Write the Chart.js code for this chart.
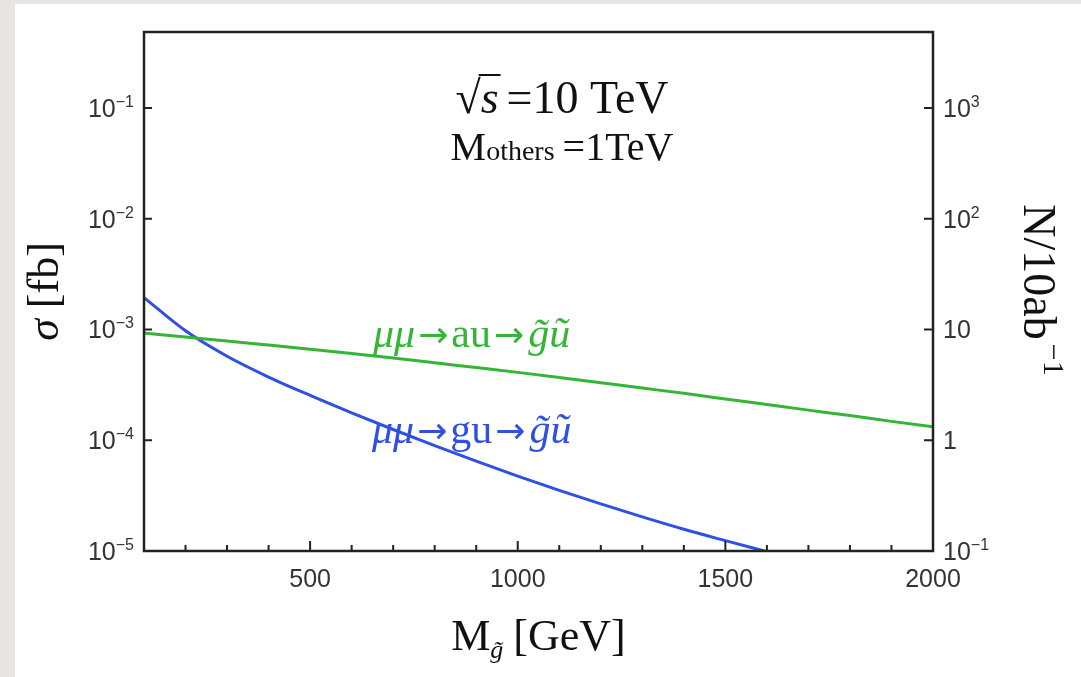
<!DOCTYPE html>
<html>
<head>
<meta charset="utf-8">
<script src="https://cdn.jsdelivr.net/npm/chart.js@4.4.1/dist/chart.umd.min.js"></script>
<style>
  html, body { margin: 0; padding: 0; background: #e8e6e2; overflow: hidden; }
  .panel { position: absolute; left: 15px; top: 4px; right: 0; bottom: 0; background: #fff; }
  #chart { position: absolute; left: 0; top: 0; }
</style>
</head>
<body>
<div class="panel"></div>
<canvas id="chart" width="1081" height="677"></canvas>
<script>
// gluino mass grid [GeV]
const masses = [100, 200, 300, 400, 500, 600, 700, 800, 900, 1000,
                1100, 1200, 1300, 1400, 1500, 1600, 1700, 1800, 1900, 2000]

// sigma [fb] for mu mu -> a u -> gluino squark
const sigmaAU = [9.29e-4, 8.55e-4, 7.87e-4, 7.23e-4, 6.64e-4, 6.08e-4, 5.53e-4, 5.0e-4, 4.53e-4, 4.1e-4,
                 3.69e-4, 3.31e-4, 2.96e-4, 2.65e-4, 2.36e-4, 2.1e-4, 1.87e-4, 1.67e-4, 1.48e-4, 1.32e-4]

// sigma [fb] for mu mu -> g u -> gluino squark (falls off the bottom past ~1.6 TeV)
const sigmaGU = [1.94e-3, 9.72e-4, 5.73e-4, 3.72e-4, 2.54e-4, 1.77e-4, 1.25e-4, 8.95e-5, 6.49e-5, 4.75e-5,
                 3.53e-5, 2.66e-5, 2.03e-5, 1.57e-5, 1.24e-5, 9.85e-6]

const xMajorTicks = [500, 1000, 1500, 2000]
const xMinorTicks = [200, 300, 400, 600, 700, 800, 900, 1100, 1200, 1300, 1400, 1600, 1700, 1800, 1900]
const sigmaTicks = [1e-5, 1e-4, 1e-3, 1e-2, 1e-1]
const sigmaTickExp = ['\u22125', '\u22124', '\u22123', '\u22122', '\u22121']
const eventTicks = [0.1, 1, 10, 100, 1000]
const eventTickText = [['10', '\u22121'], ['1', ''], ['10', ''], ['10', '2'], ['10', '3']]

const lumi = 1e4 // 10 ab^-1 in fb^-1
const sigmaMin = 1e-5
const sigmaMax = 0.485

const GREEN = '#35b535'
const BLUE = '#2f50e3'
const SANS = '"Liberation Sans", Arial, sans-serif'
const SERIF = '"Liberation Serif", "Times New Roman", serif'
const ARROW = '"DejaVu Sans", sans-serif'

function runsWidth(ctx, runs) {
    let w = 0
    runs.forEach(r => {
        ctx.font = r.font
        w += ctx.measureText(r.t).width + (r.gap || 0)
    })
    return w
}

// draws a row of differently styled text pieces, all on one baseline
function drawRuns(ctx, runs, x, y, align) {
    const w = runsWidth(ctx, runs)
    let cx = align === 'right' ? x - w : align === 'center' ? x - w / 2 : x
    ctx.textAlign = 'left'
    ctx.textBaseline = 'alphabetic'
    const spots = []
    runs.forEach(r => {
        ctx.font = r.font
        ctx.fillStyle = r.color || '#111'
        ctx.fillText(r.t, cx, y + (r.dy || 0))
        const rw = ctx.measureText(r.t).width
        spots.push({ x: cx, w: rw })
        cx += rw + (r.gap || 0)
    })
    return spots
}

function powRuns(base, exp) {
    const runs = [{ t: base, font: '25px ' + SANS, color: '#333' }]
    if (exp) runs.push({ t: exp, font: '16px ' + SANS, color: '#333', dy: -10 })
    return runs
}

// mu mu -> X u -> gluino squark, with wider arrows
function processRuns(mid, color) {
    return [
        { t: '\u03BC\u03BC', font: 'italic 42px ' + SERIF, color, gap: 3 },
        { t: '\u2192', font: '36px ' + ARROW, color, gap: 3 },
        { t: mid, font: '42px ' + SERIF, color, gap: 3 },
        { t: '\u2192', font: '36px ' + ARROW, color, gap: 4 },
        { t: 'g\u0303u\u0303', font: 'italic 42px ' + SERIF, color }
    ]
}

const frameAndText = {
    id: 'frameAndText',
    afterDatasetsDraw(chart) {
        const { ctx, chartArea: a, scales } = chart
        const x = scales.x, y = scales.y, yN = scales.yN

        ctx.save()
        ctx.strokeStyle = '#222'
        ctx.lineWidth = 2.5
        ctx.strokeRect(a.left, a.top, a.right - a.left, a.bottom - a.top)

        // inward ticks
        ctx.lineWidth = 2
        ctx.beginPath()
        xMajorTicks.forEach(v => {
            const px = x.getPixelForValue(v)
            ctx.moveTo(px, a.bottom); ctx.lineTo(px, a.bottom - 10)
        })
        xMinorTicks.forEach(v => {
            const px = x.getPixelForValue(v)
            ctx.moveTo(px, a.bottom); ctx.lineTo(px, a.bottom - 6)
        })
        sigmaTicks.forEach(v => {
            const py = y.getPixelForValue(v)
            ctx.moveTo(a.left, py); ctx.lineTo(a.left + 8, py)
        })
        eventTicks.forEach(v => {
            const py = yN.getPixelForValue(v)
            ctx.moveTo(a.right, py); ctx.lineTo(a.right - 9, py)
        })
        ctx.stroke()

        // tick labels
        sigmaTicks.forEach((v, i) => {
            const py = y.getPixelForValue(v)
            drawRuns(ctx, powRuns('10', sigmaTickExp[i]), a.left - 10, py + 9, 'right')
        })
        eventTicks.forEach((v, i) => {
            const py = yN.getPixelForValue(v)
            drawRuns(ctx, powRuns(eventTickText[i][0], eventTickText[i][1]), a.right + 10, py + 9, 'left')
        })
        ctx.font = '25px ' + SANS
        ctx.fillStyle = '#333'
        ctx.textAlign = 'center'
        ctx.textBaseline = 'alphabetic'
        xMajorTicks.forEach(v => {
            ctx.fillText(String(v), x.getPixelForValue(v), a.bottom + 36)
        })

        // axis titles
        drawRuns(ctx, [
            { t: 'M', font: '44px ' + SERIF },
            { t: 'g\u0303', font: 'italic 26px ' + SERIF, dy: 8, gap: 10 },
            { t: '[GeV]', font: '44px ' + SERIF }
        ], (a.left + a.right) / 2, 650, 'center')

        ctx.save()
        ctx.translate(58, (a.top + a.bottom) / 2)
        ctx.rotate(-Math.PI / 2)
        drawRuns(ctx, [
            { t: '\u03C3', font: 'italic 44px ' + SERIF, gap: 11 },
            { t: '[fb]', font: '44px ' + SERIF }
        ], 0, 0, 'center')
        ctx.restore()

        ctx.save()
        ctx.translate(1024, 290)
        ctx.rotate(Math.PI / 2)
        drawRuns(ctx, [
            { t: 'N/10ab', font: '46px ' + SERIF, gap: 4 },
            { t: '\u22121', font: '30px ' + SERIF, dy: -20 }
        ], 0, 0, 'center')
        ctx.restore()

        // collider setup
        const s = drawRuns(ctx, [
            { t: '\u221A', font: '46px ' + SERIF },
            { t: 's', font: 'italic 46px ' + SERIF, gap: 8 },
            { t: '=10 TeV', font: '46px ' + SERIF }
        ], 562, 113, 'center')
        ctx.strokeStyle = '#111'
        ctx.lineWidth = 2
        ctx.beginPath()
        ctx.moveTo(s[0].x + s[0].w - 2, 75)
        ctx.lineTo(s[1].x + s[1].w + 2, 75)
        ctx.stroke()

        drawRuns(ctx, [
            { t: 'M', font: '40px ' + SERIF },
            { t: 'others', font: '28px ' + SERIF, gap: 8 },
            { t: '=1TeV', font: '40px ' + SERIF }
        ], 562, 160, 'center')

        // curve labels
        drawRuns(ctx, processRuns('au', GREEN), 373, 347, 'left')
        drawRuns(ctx, processRuns('gu', BLUE), 372, 443, 'left')

        ctx.restore()
    }
}

const toPoints = (xs, ys) => ys.map((v, i) => ({ x: xs[i], y: v }))

new Chart(document.getElementById('chart'), {
    type: 'line',
    data: {
        datasets: [
            {
                label: 'au',
                data: toPoints(masses, sigmaAU),
                borderColor: GREEN,
                borderWidth: 3,
                pointRadius: 0,
                cubicInterpolationMode: 'monotone',
                yAxisID: 'y'
            },
            {
                label: 'gu',
                data: toPoints(masses, sigmaGU),
                borderColor: BLUE,
                borderWidth: 3,
                pointRadius: 0,
                cubicInterpolationMode: 'monotone',
                yAxisID: 'y'
            }
        ]
    },
    options: {
        responsive: false,
        animation: false,
        events: [],
        layout: { padding: { left: 144, top: 32, right: 148, bottom: 126 } },
        plugins: { legend: { display: false }, tooltip: { enabled: false } },
        scales: {
            x: { type: 'linear', min: 100, max: 2000, display: false },
            y: { type: 'logarithmic', min: sigmaMin, max: sigmaMax, display: false },
            yN: { type: 'logarithmic', position: 'right', min: sigmaMin * lumi, max: sigmaMax * lumi, display: false }
        }
    },
    plugins: [frameAndText]
})
</script>
</body>
</html>
